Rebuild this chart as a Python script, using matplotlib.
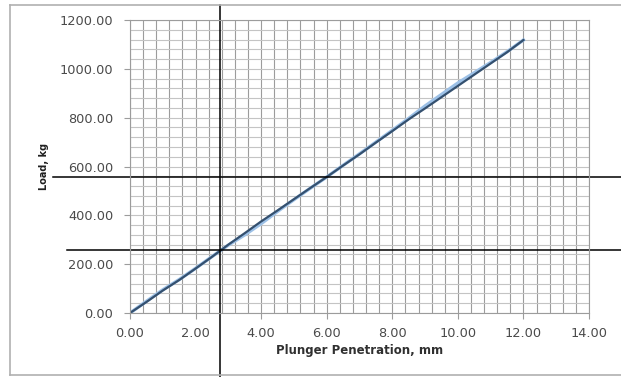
import numpy as np
import matplotlib
matplotlib.use("Agg")
import matplotlib.pyplot as plt
from matplotlib.lines import Line2D

# penetration (mm) and load (kg), two runs
penetration = [0.0, 0.5, 1.0, 1.5, 2.0, 2.5, 3.0, 3.5, 4.0, 4.5, 5.0, 5.5, 6.0,
               6.5, 7.0, 7.5, 8.0, 8.5, 9.0, 9.5, 10.0, 10.5, 11.0, 11.5, 12.0]
load_1 = [0, 45, 92, 135, 182, 230, 280, 327, 375, 420, 466, 512, 557,
          604, 650, 698, 745, 793, 838, 884, 930, 976, 1022, 1068, 1118]
load_2 = [0, 48, 95, 137, 183, 231, 278, 320, 366, 416, 464, 511, 557,
          605, 652, 700, 748, 797, 848, 895, 942, 984, 1026, 1070, 1118]

x_ticks = [0, 2, 4, 6, 8, 10, 12, 14]
y_ticks = [0, 200, 400, 600, 800, 1000, 1200]

# black reference lines drawn over the chart
mark_x = 2.75
mark_y = [258, 557]

fig = plt.figure(figsize=(6.21, 3.77), dpi=100)
ax = fig.add_axes([130/621, 1 - 313/377, 459/621, 293/377])

ax.set_xlim(0, 14)
ax.set_ylim(0, 1200)
ax.set_xticks(x_ticks)
ax.set_yticks(y_ticks)
ax.set_xticks(np.arange(0, 14.01, 0.4), minor=True)
ax.set_yticks(np.arange(0, 1200.1, 40), minor=True)
ax.set_xticklabels(["%.2f" % v for v in x_ticks])
ax.set_yticklabels(["%.2f" % v for v in y_ticks])

ax.grid(True, which="both", axis="x", color="#9c9c9c", lw=0.8)
ax.grid(True, which="both", axis="y", color="#c4c4c4", lw=0.8)
ax.set_axisbelow(True)

for s in ax.spines.values():
    s.set_color("#9c9c9c")
    s.set_linewidth(0.8)

ax.tick_params(which="major", length=4, color="#9c9c9c", labelsize=9.3,
               labelcolor="#4a4a4a")
ax.tick_params(axis="y", pad=8)
ax.tick_params(axis="x", pad=6)
ax.tick_params(which="minor", length=0)

ax.plot(penetration, load_2, color="#9cc0e6", lw=2.4)
ax.plot(penetration, load_1, color="#34506f", lw=1.6)

ax.set_xlabel("Plunger Penetration, mm", fontsize=8.5, fontweight="bold",
              color="#303030", labelpad=3)
ax.set_ylabel("Load, kg", fontsize=7, fontweight="bold", color="#202020",
              labelpad=8)

# overlay lines extending beyond the plot
ax.axvline(mark_x, ymin=-64/293, ymax=308/293, color="black", lw=1.1,
           clip_on=False)
ax.axhline(mark_y[0], xmin=-63/459, xmax=1.1, color="black", lw=1.1,
           clip_on=False)
ax.axhline(mark_y[1], xmin=-77/459, xmax=1.1, color="black", lw=1.1,
           clip_on=False)

# outer chart border (left, top, bottom)
for xs, ys in [([10/621, 10/621], [2/377, 1 - 5/377]),
               ([10/621, 1], [1 - 5/377, 1 - 5/377]),
               ([10/621, 1], [2/377, 2/377])]:
    fig.add_artist(Line2D(xs, ys, color="#b0b0b0", lw=1.2,
                          transform=fig.transFigure))

fig.savefig("out.png", dpi=100)
